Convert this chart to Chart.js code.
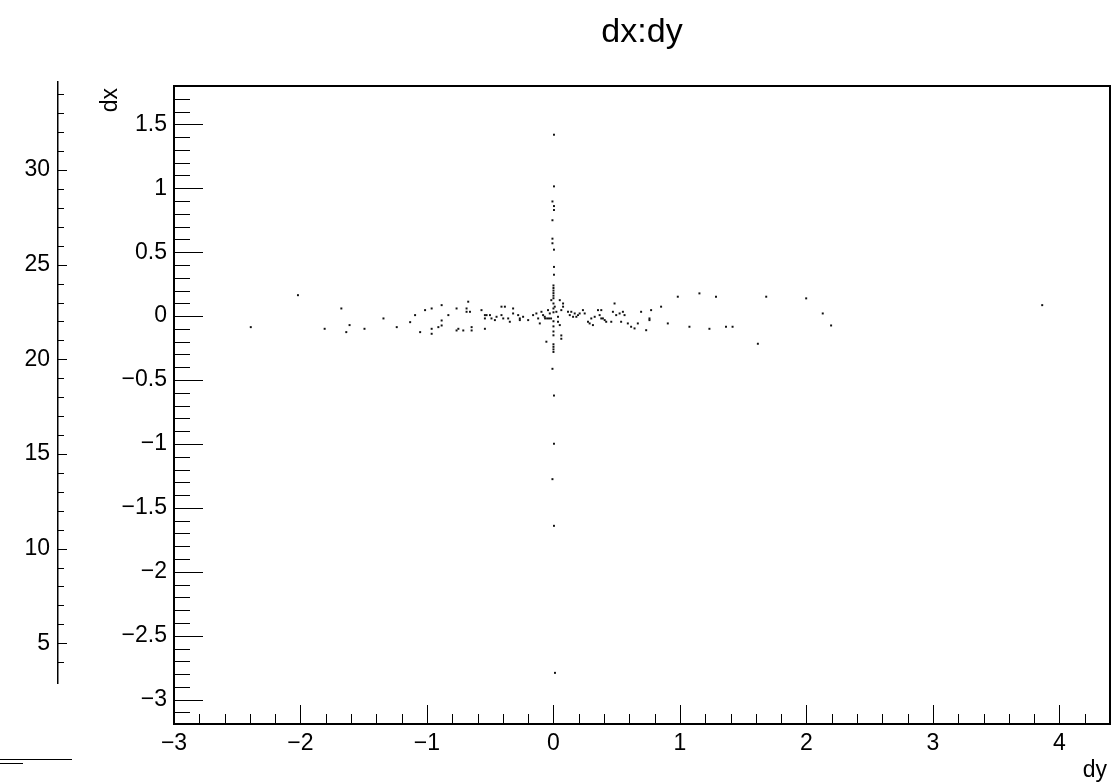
<!DOCTYPE html>
<html lang="en">
<head>
    <meta charset="UTF-8">
    <title>dx:dy</title>
    <script src="https://cdn.jsdelivr.net/npm/chart.js"></script>
    <style>
        html, body { margin: 0; padding: 0; background: #fff; }
        #wrap { position: relative; width: 1114px; height: 783px; overflow: hidden; }
        canvas { position: absolute; left: 0; top: 0; }
    </style>
</head>
<body>
<div id="wrap">
    <canvas id="oldAxis" width="80" height="783"></canvas>
    <canvas id="scatter" width="1114" height="783"></canvas>
</div>
<script>
// dy (horizontal) and dx (vertical) for every entry of the tree
const dy = [
    0.004, 0.004, -0.008, 0.004, 0.004, -0.008, -0.008, -0.008, 0.004, 0.004,
    0.004, 0.0, 0.0, 0.0, 0.0, 0.0, 0.0, 0.0, 0.0, 0.0,
    0.0, 0.0, 0.0, 0.0, 0.0, 0.0, 0.0, -0.008, 0.004, 0.004,
    -0.008, 0.004, 0.012,
    -2.393, -2.020, -1.809, -1.677, -1.638, -1.612, -1.494, -1.344, -1.239, -1.133,
    -1.094, -1.054, -1.015, -0.963, -0.963, -0.963, -0.910, -0.884, -0.884, -0.884,
    -0.831, -0.766, -0.766, -0.752, -0.713, -0.687, -0.687, -0.674, -0.660, -0.647,
    -0.647, -0.569, -0.542, -0.542, -0.542, -0.529, -0.502, -0.490, -0.463, -0.450,
    -0.411, -0.384, -0.411, -0.397, -0.358, -0.345, -0.319, -0.319, -0.279, -0.266,
    -0.266, -0.240, -0.200, -0.161, -0.135, -0.121, -0.108, -0.095, -0.082, -0.069,
    -0.056, -0.043, -0.029, -0.017, 0.000, -0.066, -0.050, -0.035, -0.019, 0.010,
    0.023, 0.036, 0.036, 0.050, 0.050, 0.062, 0.062, 0.062, 0.076, 0.076,
    0.115, 0.129, 0.141, 0.155, 0.168, 0.181, 0.194, 0.207, 0.233, 0.247,
    0.273, 0.286, 0.299, 0.312, 0.326, 0.352, 0.378, 0.365, 0.378, 0.391,
    0.405, 0.417, 0.457, 0.470, 0.483, 0.496, 0.523, 0.549, 0.562, 0.535,
    0.588, 0.614, 0.641, 0.667, 0.693, 0.733, 0.759, 0.759, 0.772, 0.851,
    0.904, 0.983, 1.075, 1.154, 1.233, 1.285, 1.364, 1.416, 1.616, 1.682,
    1.998, 2.129, 2.195, 3.864
];
const dx = [
    1.419, 1.015, 0.897, 0.861, 0.830, 0.750, 0.606, 0.570, 0.520, 0.385,
    0.324, 0.24, 0.22, 0.20, 0.18, 0.16, 0.14, 0.06, 0.03, -0.04,
    -0.08, -0.12, -0.15, -0.22, -0.24, -0.26, -0.28, -0.412, -0.621, -0.998,
    -1.275, -1.640, -2.790,
    -0.086, 0.164, -0.099, 0.060, -0.125, -0.070, -0.099, -0.018, -0.086, -0.047,
    0.008, -0.125, 0.047, 0.060, -0.099, -0.138, -0.086, 0.086, -0.034, -0.073,
    0.008, 0.060, -0.112, -0.099, -0.112, 0.060, 0.034, 0.113, 0.034, -0.086,
    -0.112, 0.047, 0.008, -0.018, -0.099, 0.008, 0.008, -0.018, -0.031, -0.005,
    0.074, 0.074, 0.008, -0.018, -0.018, -0.044, 0.060, 0.021, 0.008, -0.018,
    -0.031, -0.005, -0.031, 0.008, 0.021, -0.018, -0.057, 0.034, 0.008, -0.005,
    -0.200, 0.047, 0.021, 0.125, 0.099, -0.018, -0.018, -0.018, -0.018, 0.074,
    0.034, -0.005, -0.044, 0.125, -0.070, 0.047, -0.151, -0.177, 0.099, 0.074,
    0.034, 0.008, 0.034, -0.005, 0.021, -0.005, 0.008, 0.021, 0.047, 0.021,
    -0.044, -0.057, -0.018, -0.070, -0.005, 0.047, 0.047, 0.008, -0.018, -0.018,
    -0.031, -0.044, -0.044, 0.034, 0.099, 0.008, 0.021, 0.034, 0.008, -0.044,
    -0.057, -0.083, -0.096, -0.057, 0.034, -0.110, -0.018, -0.031, 0.047, 0.074,
    -0.057, 0.152, -0.083, 0.178, -0.099, 0.152, -0.083, -0.083, -0.216, 0.152,
    0.139, 0.021, -0.073, 0.086
];

// axis labels
const xTicks = [-3, -2, -1, 0, 1, 2, 3, 4];
const yTicks = [-3, -2.5, -2, -1.5, -1, -0.5, 0, 0.5, 1, 1.5];
const oldTicks = [5, 10, 15, 20, 25, 30];

const FONT = "'Liberation Sans', Arial, Helvetica, sans-serif";
Chart.defaults.font.family = FONT;
Chart.defaults.color = '#000';

const minus = v => String(v).replace('-', '\u2212');

// ROOT-like frame with inward ticks, plus titles
const frameTicks = {
    id: 'frameTicks',
    afterDraw(chart) {
        const { ctx, chartArea: a, scales } = chart;
        ctx.save();
        ctx.strokeStyle = '#000';
        ctx.lineWidth = 1;
        ctx.beginPath();
        // x: primary every 1, secondary every 0.2
        for (let i = -15; i <= 22; i++) {
            const px = Math.round(scales.x.getPixelForValue(i * 0.2)) + 0.5;
            const len = i % 5 === 0 ? 19 : 10;
            ctx.moveTo(px, a.bottom);
            ctx.lineTo(px, a.bottom - len);
        }
        // y: primary every 0.5, secondary every 0.1
        for (let i = -31; i <= 17; i++) {
            const py = Math.round(scales.y.getPixelForValue(i / 10)) + 0.5;
            const len = i % 5 === 0 ? 29 : 16;
            ctx.moveTo(a.left, py);
            ctx.lineTo(a.left + len, py);
        }
        ctx.stroke();

        ctx.lineWidth = 2;
        ctx.strokeRect(a.left, a.top, a.right - a.left, a.bottom - a.top);

        ctx.fillStyle = '#000';
        ctx.font = '34px ' + FONT;
        ctx.textAlign = 'center';
        ctx.textBaseline = 'alphabetic';
        ctx.fillText('dx:dy', 642, 42);

        ctx.font = '23px ' + FONT;
        ctx.textAlign = 'right';
        ctx.fillText('dy', 1107, 777);

        ctx.translate(117, 88);
        ctx.rotate(-Math.PI / 2);
        ctx.fillText('dx', 0, 0);
        ctx.restore();
    }
};

new Chart(document.getElementById('scatter'), {
    type: 'scatter',
    data: {
        datasets: [{
            data: dy.map((v, i) => ({ x: v, y: dx[i] })),
            pointStyle: 'rect',
            pointRadius: 1.4,
            pointBorderWidth: 0,
            backgroundColor: '#111'
        }]
    },
    options: {
        responsive: false,
        animation: false,
        layout: { padding: { top: 86, right: 2, left: 0, bottom: 0 } },
        plugins: { legend: { display: false }, tooltip: { enabled: false } },
        scales: {
            x: {
                type: 'linear',
                min: -3,
                max: 4.4,
                afterFit: s => { s.height = 59; },
                afterBuildTicks: s => { s.ticks = xTicks.map(v => ({ value: v })); },
                grid: { display: false, drawTicks: false },
                border: { display: false },
                ticks: {
                    padding: 6,
                    maxRotation: 0,
                    autoSkip: false,
                    font: { size: 23 },
                    callback: minus
                }
            },
            y: {
                type: 'linear',
                min: -3.19,
                max: 1.8,
                afterFit: s => { s.width = 174; },
                afterBuildTicks: s => { s.ticks = yTicks.map(v => ({ value: v })); },
                grid: { display: false, drawTicks: false },
                border: { display: false },
                ticks: {
                    padding: 7,
                    autoSkip: false,
                    font: { size: 23 },
                    callback: minus
                }
            }
        }
    },
    plugins: [frameTicks]
});

// leftover axis from the previous pad
const oldAxisTicks = {
    id: 'oldAxisTicks',
    afterDraw(chart) {
        const { ctx, chartArea: a, scales } = chart;
        ctx.save();
        ctx.strokeStyle = '#000';
        ctx.lineWidth = 1;
        ctx.beginPath();
        for (let v = 4; v <= 34; v++) {
            const py = Math.round(scales.y.getPixelForValue(v)) + 0.5;
            ctx.moveTo(a.left, py);
            ctx.lineTo(a.left + (v % 5 === 0 ? 9 : 6), py);
        }
        ctx.moveTo(0, 759.5);
        ctx.lineTo(72, 759.5);
        ctx.moveTo(0, 763.5);
        ctx.lineTo(23, 763.5);
        ctx.stroke();
        ctx.restore();
    }
};

new Chart(document.getElementById('oldAxis'), {
    type: 'scatter',
    data: { datasets: [{ data: [] }] },
    options: {
        responsive: false,
        animation: false,
        layout: { padding: { top: 82, bottom: 100, left: 0, right: 0 } },
        plugins: { legend: { display: false }, tooltip: { enabled: false } },
        scales: {
            x: { display: false, min: 0, max: 1 },
            y: {
                type: 'linear',
                min: 2.9,
                max: 34.65,
                afterFit: s => { s.width = 58; },
                afterBuildTicks: s => { s.ticks = oldTicks.map(v => ({ value: v })); },
                grid: { display: false, drawTicks: false },
                border: { display: true, color: '#000', width: 1.5 },
                ticks: { padding: 8, font: { size: 23 } }
            }
        }
    },
    plugins: [oldAxisTicks]
});
</script>
</body>
</html>
